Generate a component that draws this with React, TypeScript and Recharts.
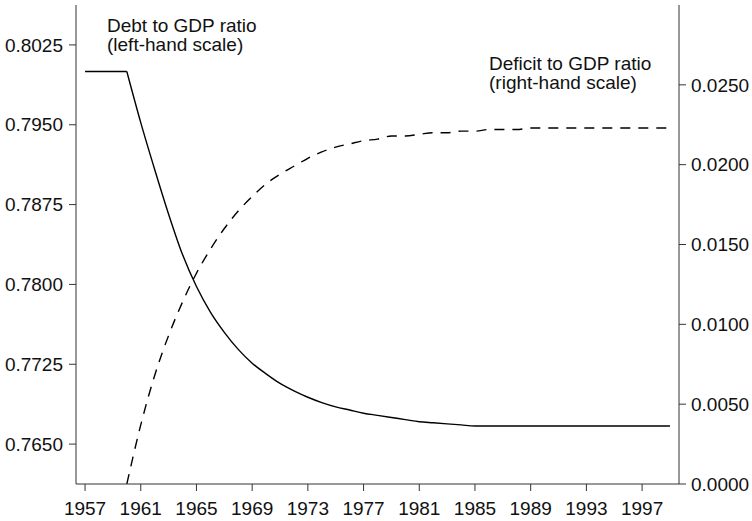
import React from 'react'
import { LineChart, Line, XAxis, YAxis, Customized } from 'recharts'

const years = [
  1957, 1958, 1959, 1960, 1961, 1962, 1963, 1964, 1965, 1966, 1967, 1968, 1969, 1970, 1971,
  1972, 1973, 1974, 1975, 1976, 1977, 1978, 1979, 1980, 1981, 1982, 1983, 1984, 1985, 1986,
  1987, 1988, 1989, 1990, 1991, 1992, 1993, 1994, 1995, 1996, 1997, 1998, 1999,
]

// debt to GDP ratio (left-hand scale)
const debtRatio = [
  0.8, 0.8, 0.8, 0.8, 0.7952, 0.7908, 0.7866, 0.7828, 0.7798, 0.7774, 0.7755, 0.7739, 0.7726,
  0.7716, 0.7707, 0.77, 0.7694, 0.7689, 0.7685, 0.7682, 0.7679, 0.7677, 0.7675, 0.7673, 0.7671,
  0.767, 0.7669, 0.7668, 0.7667, 0.7667, 0.7667, 0.7667, 0.7667, 0.7667, 0.7667, 0.7667, 0.7667,
  0.7667, 0.7667, 0.7667, 0.7667, 0.7667, 0.7667,
]

// deficit to GDP ratio (right-hand scale)
const deficitRatio = [
  null, null, null, 0.0, 0.0037, 0.0068, 0.0093, 0.0114, 0.0132, 0.0147, 0.016, 0.0171, 0.018,
  0.0188, 0.0194, 0.0199, 0.0204, 0.0208, 0.0211, 0.0213, 0.0215, 0.0216, 0.0218, 0.0218, 0.0219,
  0.022, 0.022, 0.0221, 0.0221, 0.0222, 0.0222, 0.0222, 0.0223, 0.0223, 0.0223, 0.0223, 0.0223,
  0.0223, 0.0223, 0.0223, 0.0223, 0.0223, 0.0223,
]

// the debt ratio is held flat until this year, then starts to fall
const policyYear = 1960

const yearTicks = [1957, 1961, 1965, 1969, 1973, 1977, 1981, 1985, 1989, 1993, 1997]
const leftTicks = [0.765, 0.7725, 0.78, 0.7875, 0.795, 0.8025]
const rightTicks = [0, 0.005, 0.01, 0.015, 0.02, 0.025]

const data = years.map((year, i) => ({
  year,
  debtFlat: year <= policyYear ? debtRatio[i] : null,
  debtPath: year >= policyYear ? debtRatio[i] : null,
  deficit: deficitRatio[i],
}))

const font = '"Liberation Sans", Arial, Helvetica, sans-serif'
const ink = '#111'
const axisInk = '#333'
const tickStyle = { fontSize: 19, fill: ink, fontFamily: font }

const Notes = () => (
  <g fontFamily={font} fontSize={19} fill={ink}>
    <text x={107} y={32}>Debt to GDP ratio</text>
    <text x={107} y={51}>(left-hand scale)</text>
    <text x={489} y={70}>Deficit to GDP ratio</text>
    <text x={489} y={89}>(right-hand scale)</text>
  </g>
)

export default function App() {
  return (
    <div style={{ position: 'absolute', left: 0, top: 0, background: '#fff' }}>
      <LineChart
        width={752}
        height={521}
        data={data}
        margin={{ top: 5, right: 0, bottom: 0, left: 0 }}
      >
        <XAxis
          dataKey="year"
          type="number"
          domain={[1956.35, 1999.65]}
          ticks={yearTicks}
          allowDataOverflow
          height={37}
          tickSize={7}
          tickMargin={11}
          stroke={axisInk}
          tick={tickStyle}
        />
        <YAxis
          yAxisId="left"
          orientation="left"
          domain={[0.76125, 0.80625]}
          ticks={leftTicks}
          allowDataOverflow
          width={76}
          tickSize={7}
          tickMargin={6}
          stroke={axisInk}
          tick={tickStyle}
          tickFormatter={(v: number) => v.toFixed(4)}
        />
        <YAxis
          yAxisId="right"
          orientation="right"
          domain={[0, 0.03]}
          ticks={rightTicks}
          allowDataOverflow
          width={73}
          tickSize={7}
          tickMargin={5}
          stroke={axisInk}
          tick={tickStyle}
          tickFormatter={(v: number) => v.toFixed(4)}
        />
        <Line
          yAxisId="left"
          type="linear"
          dataKey="debtFlat"
          stroke="#000"
          strokeWidth={1.4}
          dot={false}
          isAnimationActive={false}
        />
        <Line
          yAxisId="left"
          type="monotone"
          dataKey="debtPath"
          stroke="#000"
          strokeWidth={1.4}
          dot={false}
          isAnimationActive={false}
        />
        <Line
          yAxisId="right"
          type="monotone"
          dataKey="deficit"
          stroke="#000"
          strokeWidth={1.4}
          strokeDasharray="10 8"
          dot={false}
          isAnimationActive={false}
        />
        <Customized component={Notes} />
      </LineChart>
    </div>
  )
}
